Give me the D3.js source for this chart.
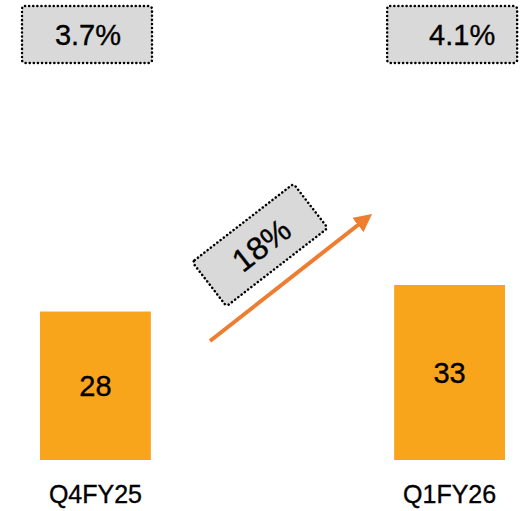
<!DOCTYPE html>
<html>
<head>
<meta charset="utf-8">
<script src="https://cdn.jsdelivr.net/npm/d3@7"></script>
<style>
  html, body { margin: 0; padding: 0; background: #fff; }
  svg { display: block; font-family: "Liberation Sans", Arial, sans-serif; }
  text { stroke: #000; stroke-width: 0.35px; }
</style>
</head>
<body>
<script>
// Quarterly values and annotations
const categories = ["Q4FY25", "Q1FY26"];
const values = [28, 33];
const marginLabels = ["3.7%", "4.1%"];
const growthLabel = "18%";

const W = 529, H = 511;
const svg = d3.select("body").append("svg").attr("width", W).attr("height", H);

const x = d3.scaleBand().domain(categories).range([40, 505]).paddingInner(0.687).paddingOuter(0);
const y = d3.scaleLinear().domain([0, 33]).range([460, 285]);

const barColor = "#F9A51B";

// Bars
svg.selectAll("rect.bar").data(values).join("rect")
  .attr("class", "bar")
  .attr("x", (d, i) => x(categories[i]))
  .attr("y", d => y(d))
  .attr("width", x.bandwidth())
  .attr("height", d => y(0) - y(d))
  .attr("fill", barColor);

// Values inside bars
svg.selectAll("text.val").data(values).join("text")
  .attr("class", "val")
  .attr("x", (d, i) => x(categories[i]) + x.bandwidth() / 2)
  .attr("y", d => (y(d) + y(0)) / 2)
  .attr("text-anchor", "middle")
  .attr("dominant-baseline", "central")
  .attr("font-size", 29)
  .attr("fill", "#000")
  .text(d => d);

// Category axis labels
const xAxis = d3.axisBottom(x).tickSize(0).tickPadding(0);
const gx = svg.append("g").attr("transform", `translate(0, ${y(0) + 21})`).call(xAxis);
gx.select(".domain").remove();
gx.selectAll("text")
  .attr("font-family", "Liberation Sans, Arial, sans-serif")
  .attr("font-size", 25)
  .attr("fill", "#000")
  .attr("dy", "0.88em");

// Margin boxes at top, one above each quarter
const boxW = 130, boxH = 57;
const boxShift = [-18, -7];
const textShift = [1, 10];
const boxG = svg.selectAll("g.mbox").data(marginLabels).join("g")
  .attr("class", "mbox")
  .attr("transform", (d, i) => `translate(${x(categories[i]) + boxShift[i]}, 6)`);
boxG.append("rect")
  .attr("width", boxW).attr("height", boxH)
  .attr("rx", 3)
  .attr("fill", "#D9D9D9")
  .attr("stroke", "#000")
  .attr("stroke-width", 2.5)
  .attr("stroke-dasharray", "0.1 4")
  .attr("stroke-linecap", "round");
boxG.append("text")
  .attr("x", (d, i) => boxW / 2 + textShift[i])
  .attr("y", boxH / 2)
  .attr("text-anchor", "middle")
  .attr("dominant-baseline", "central")
  .attr("font-size", 29)
  .attr("fill", "#000")
  .text(d => d);

// Growth arrow
const arrowColor = "#ED7D31";
svg.append("defs").append("marker")
  .attr("id", "arrowhead")
  .attr("viewBox", "0 0 10 10")
  .attr("refX", 5).attr("refY", 5)
  .attr("markerWidth", 4.5).attr("markerHeight", 4.5)
  .attr("orient", "auto")
  .append("path")
  .attr("d", "M0,0 L10,5 L0,10 Z")
  .attr("fill", arrowColor);

svg.append("line")
  .attr("x1", 210).attr("y1", 341)
  .attr("x2", 365).attr("y2", 219.5)
  .attr("stroke", arrowColor)
  .attr("stroke-width", 4)
  .attr("marker-end", "url(#arrowhead)");

// Growth box, rotated along the arrow
const gBox = svg.append("g").attr("transform", "translate(260,245) rotate(-37.7)");
gBox.append("rect")
  .attr("x", -64).attr("y", -28)
  .attr("width", 128).attr("height", 56)
  .attr("rx", 3)
  .attr("fill", "#D9D9D9")
  .attr("stroke", "#000")
  .attr("stroke-width", 2.5)
  .attr("stroke-dasharray", "0.1 4")
  .attr("stroke-linecap", "round");
gBox.append("text")
  .attr("x", 1).attr("y", 1)
  .attr("text-anchor", "middle")
  .attr("dominant-baseline", "central")
  .attr("font-size", 32)
  .attr("fill", "#000")
  .text(growthLabel);
</script>
</body>
</html>
